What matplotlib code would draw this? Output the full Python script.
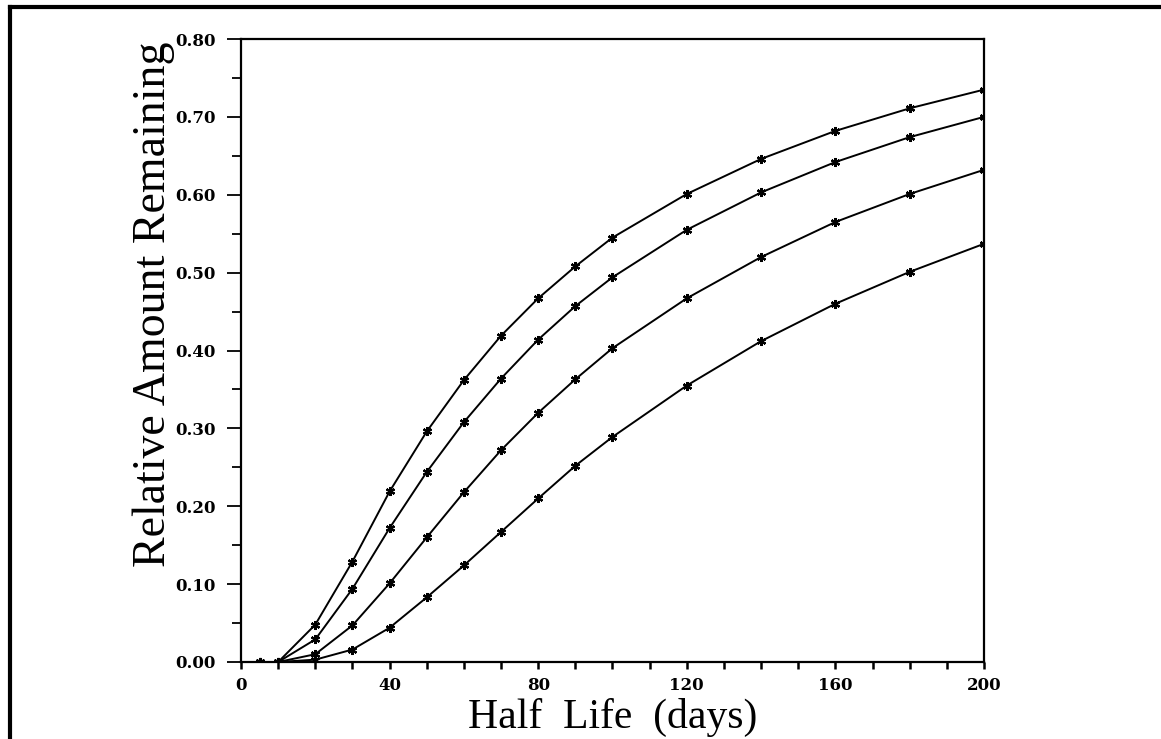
import matplotlib
matplotlib.use("Agg")
import matplotlib.pyplot as plt
from matplotlib.lines import Line2D
from matplotlib.ticker import MultipleLocator

# half life values (days) where the curves were sampled
half_life = [5, 10, 20, 30, 40, 50, 60, 70, 80, 90, 100, 120, 140, 160, 180, 200]

# relative amount remaining, four curves (top to bottom)
curve_a = [0.0, 0.0, 0.048, 0.129, 0.219, 0.296, 0.362, 0.419, 0.467, 0.508, 0.545, 0.601, 0.646, 0.682, 0.711, 0.735]
curve_b = [0.0, 0.0, 0.029, 0.094, 0.172, 0.244, 0.308, 0.364, 0.414, 0.457, 0.494, 0.555, 0.603, 0.642, 0.674, 0.700]
curve_c = [0.0, 0.0, 0.010, 0.047, 0.101, 0.160, 0.218, 0.272, 0.320, 0.363, 0.403, 0.467, 0.520, 0.565, 0.601, 0.632]
curve_d = [0.0, 0.0, 0.003, 0.016, 0.044, 0.083, 0.124, 0.167, 0.210, 0.252, 0.289, 0.355, 0.412, 0.460, 0.501, 0.537]

x_ticks = [0, 40, 80, 120, 160, 200]
y_ticks = [0.0, 0.1, 0.2, 0.3, 0.4, 0.5, 0.6, 0.7, 0.8]

fig = plt.figure(figsize=(11.61, 7.39), dpi=100)
ax = fig.add_axes([0.2076, 0.1042, 0.6399, 0.8430])

for ys in (curve_a, curve_b, curve_c, curve_d):
    ax.plot(half_life, ys, color='black', lw=1.4,
            marker=(6, 2, 0), ms=6.5, mew=1.6)

ax.set_xlim(0, 200)
ax.set_ylim(0, 0.8)
ax.set_xticks(x_ticks)
ax.set_yticks(y_ticks)
ax.set_yticklabels(['%.2f' % v for v in y_ticks])
ax.xaxis.set_minor_locator(MultipleLocator(10))
ax.yaxis.set_minor_locator(MultipleLocator(0.05))

ax.tick_params(axis='y', which='major', direction='out', length=10, width=1.3, pad=8)
ax.tick_params(axis='y', which='minor', direction='out', length=6.5, width=1.3)
ax.tick_params(axis='x', which='major', direction='out', length=5, width=1.8, pad=6)
ax.tick_params(axis='x', which='minor', direction='out', length=5, width=1.8)
for lab in ax.get_xticklabels() + ax.get_yticklabels():
    lab.set_fontfamily('DejaVu Serif')
    lab.set_fontweight('bold')
    lab.set_fontsize(12)

for sp in ax.spines.values():
    sp.set_linewidth(1.6)

ax.set_xlabel('Half  Life  (days)', fontsize=30, family='Liberation Serif')
ax.xaxis.set_label_coords(0.5, -0.058)
ax.set_ylabel('Relative Amount Remaining', fontsize=33, family='Liberation Serif')
ax.yaxis.set_label_coords(-0.089, 0.575)

# scanned page frame (top and left edges)
fig.add_artist(Line2D([0.009, 0.009], [0.0, 0.99], color='black', lw=3))
fig.add_artist(Line2D([0.009, 1.0], [0.99, 0.99], color='black', lw=3))

fig.savefig('out.png', dpi=100)
